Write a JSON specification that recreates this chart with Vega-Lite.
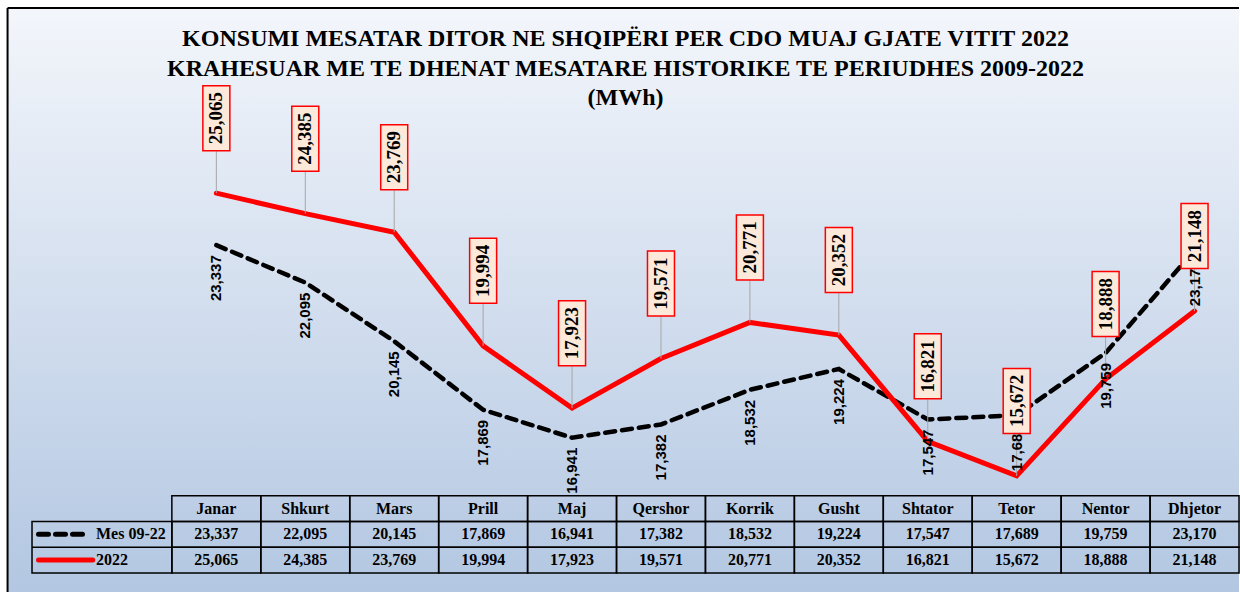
{
  "$schema": "https://vega.github.io/schema/vega-lite/v6.json",
  "width": 1240,
  "height": 593,
  "autosize": {"type": "fit", "contains": "padding"},
  "padding": 0,
  "background": "white",
  "config": {"view": {"stroke": null}, "axis": {"disable": true}},
  "title": {
    "text": ["KONSUMI MESATAR DITOR NE SHQIPËRI PER CDO MUAJ GJATE VITIT 2022", "KRAHESUAR ME TE DHENAT MESATARE HISTORIKE TE PERIUDHES 2009-2022", "(MWh)"],
    "anchor": "middle",
    "font": "Liberation Serif",
    "fontSize": 24,
    "fontWeight": "bold",
    "color": "#000000",
    "lineHeight": 29.5,
    "offset": -110,
    "dx": 6
  },
  "data": {"values": [
    {"month": "Janar", "idx": 0, "mes": 23337, "y22": 25065},
    {"month": "Shkurt", "idx": 1, "mes": 22095, "y22": 24385},
    {"month": "Mars", "idx": 2, "mes": 20145, "y22": 23769},
    {"month": "Prill", "idx": 3, "mes": 17869, "y22": 19994},
    {"month": "Maj", "idx": 4, "mes": 16941, "y22": 17923},
    {"month": "Qershor", "idx": 5, "mes": 17382, "y22": 19571},
    {"month": "Korrik", "idx": 6, "mes": 18532, "y22": 20771},
    {"month": "Gusht", "idx": 7, "mes": 19224, "y22": 20352},
    {"month": "Shtator", "idx": 8, "mes": 17547, "y22": 16821},
    {"month": "Tetor", "idx": 9, "mes": 17689, "y22": 15672},
    {"month": "Nentor", "idx": 10, "mes": 19759, "y22": 18888},
    {"month": "Dhjetor", "idx": 11, "mes": 23170, "y22": 21148}
  ]},
  "resolve": {"scale": {"y": "independent"}},
  "layer": [
    {
      "data": {"values": [{}]},
      "mark": {"type": "rect", "fill": {"gradient": "linear", "x1": 0, "y1": 0, "x2": 0, "y2": 1, "stops": [{"offset": 0, "color": "#f3f6fb"}, {"offset": 1, "color": "#b3c7e2"}]}},
      "encoding": {
        "x": {"datum": -2.348, "type": "quantitative", "scale": {"domain": [-2.433, 11.5], "nice": false, "zero": false}},
        "x2": {"datum": 11.5},
        "y": {"datum": 31217, "type": "quantitative", "scale": {"domain": [11816, 31482], "nice": false, "zero": false}},
        "y2": {"datum": 11816}
      }
    },
    {
      "data": {"values": [{}]},
      "mark": {"type": "rule", "color": "#000000", "strokeWidth": 2},
      "encoding": {
        "x": {"datum": -2.348, "type": "quantitative", "scale": {"domain": [-2.433, 11.5], "nice": false, "zero": false}},
        "x2": {"datum": 11.5},
        "y": {"datum": 31217, "type": "quantitative", "scale": {"domain": [11816, 31482], "nice": false, "zero": false}}
      }
    },
    {
      "data": {"values": [{}]},
      "mark": {"type": "rule", "color": "#000000", "strokeWidth": 2},
      "encoding": {
        "x": {"datum": -2.348, "type": "quantitative", "scale": {"domain": [-2.433, 11.5], "nice": false, "zero": false}},
        "y": {"datum": 31217, "type": "quantitative", "scale": {"domain": [11816, 31482], "nice": false, "zero": false}},
        "y2": {"datum": 11816}
      }
    },
    {
      "mark": {"type": "rect", "filled": false, "stroke": "#000000", "strokeWidth": 1.5, "width": 89, "height": 25.75},
      "encoding": {
        "x": {"field": "idx", "type": "quantitative", "scale": {"domain": [-2.433, 11.5], "nice": false, "zero": false}},
        "y": {"datum": 0, "type": "quantitative", "scale": {"domain": [-19.786, 3.243], "reverse": true, "nice": false, "zero": false}}
      }
    },
    {
      "mark": {"type": "rect", "filled": false, "stroke": "#000000", "strokeWidth": 1.5, "width": 89, "height": 25.75},
      "encoding": {
        "x": {"field": "idx", "type": "quantitative", "scale": {"domain": [-2.433, 11.5], "nice": false, "zero": false}},
        "y": {"datum": 1, "type": "quantitative", "scale": {"domain": [-19.786, 3.243], "reverse": true, "nice": false, "zero": false}}
      }
    },
    {
      "mark": {"type": "rect", "filled": false, "stroke": "#000000", "strokeWidth": 1.5, "width": 89, "height": 25.75},
      "encoding": {
        "x": {"field": "idx", "type": "quantitative", "scale": {"domain": [-2.433, 11.5], "nice": false, "zero": false}},
        "y": {"datum": 2, "type": "quantitative", "scale": {"domain": [-19.786, 3.243], "reverse": true, "nice": false, "zero": false}}
      }
    },
    {
      "data": {"values": [{}]},
      "mark": {"type": "rect", "filled": false, "stroke": "#000000", "strokeWidth": 1.5},
      "encoding": {
        "x": {"datum": -2.073, "type": "quantitative", "scale": {"domain": [-2.433, 11.5], "nice": false, "zero": false}},
        "x2": {"datum": -0.5},
        "y": {"datum": 0.5, "type": "quantitative", "scale": {"domain": [-19.786, 3.243], "reverse": true, "nice": false, "zero": false}},
        "y2": {"datum": 2.5}
      }
    },
    {
      "data": {"values": [{}]},
      "mark": {"type": "rule", "color": "#000000", "strokeWidth": 1.5},
      "encoding": {
        "x": {"datum": -2.073, "type": "quantitative", "scale": {"domain": [-2.433, 11.5], "nice": false, "zero": false}},
        "x2": {"datum": -0.5},
        "y": {"datum": 1.5, "type": "quantitative", "scale": {"domain": [-19.786, 3.243], "reverse": true, "nice": false, "zero": false}}
      }
    },
    {
      "mark": {"type": "text", "font": "Liberation Serif", "fontWeight": "bold", "fontSize": 16, "color": "#000000", "align": "center", "baseline": "middle"},
      "encoding": {
        "x": {"field": "idx", "type": "quantitative", "scale": {"domain": [-2.433, 11.5], "nice": false, "zero": false}},
        "y": {"datum": 0, "type": "quantitative", "scale": {"domain": [-19.786, 3.243], "reverse": true, "nice": false, "zero": false}},
        "text": {"field": "month"}
      }
    },
    {
      "mark": {"type": "text", "font": "Liberation Serif", "fontWeight": "bold", "fontSize": 16, "color": "#000000", "align": "center", "baseline": "middle"},
      "encoding": {
        "x": {"field": "idx", "type": "quantitative", "scale": {"domain": [-2.433, 11.5], "nice": false, "zero": false}},
        "y": {"datum": 1, "type": "quantitative", "scale": {"domain": [-19.786, 3.243], "reverse": true, "nice": false, "zero": false}},
        "text": {"field": "mes", "format": ","}
      }
    },
    {
      "mark": {"type": "text", "font": "Liberation Serif", "fontWeight": "bold", "fontSize": 16, "color": "#000000", "align": "center", "baseline": "middle"},
      "encoding": {
        "x": {"field": "idx", "type": "quantitative", "scale": {"domain": [-2.433, 11.5], "nice": false, "zero": false}},
        "y": {"datum": 2, "type": "quantitative", "scale": {"domain": [-19.786, 3.243], "reverse": true, "nice": false, "zero": false}},
        "text": {"field": "y22", "format": ","}
      }
    },
    {
      "data": {"values": [{"series": "Mes 09-22"}]},
      "mark": {"type": "text", "font": "Liberation Serif", "fontWeight": "bold", "fontSize": 16, "color": "#000000", "align": "left", "baseline": "middle"},
      "encoding": {
        "x": {"datum": -1.354, "type": "quantitative", "scale": {"domain": [-2.433, 11.5], "nice": false, "zero": false}},
        "y": {"datum": 1, "type": "quantitative", "scale": {"domain": [-19.786, 3.243], "reverse": true, "nice": false, "zero": false}},
        "text": {"field": "series"}
      }
    },
    {
      "data": {"values": [{"series": "2022"}]},
      "mark": {"type": "text", "font": "Liberation Serif", "fontWeight": "bold", "fontSize": 16, "color": "#000000", "align": "left", "baseline": "middle"},
      "encoding": {
        "x": {"datum": -1.354, "type": "quantitative", "scale": {"domain": [-2.433, 11.5], "nice": false, "zero": false}},
        "y": {"datum": 2, "type": "quantitative", "scale": {"domain": [-19.786, 3.243], "reverse": true, "nice": false, "zero": false}},
        "text": {"field": "series"}
      }
    },
    {
      "data": {"values": [{}]},
      "mark": {"type": "rule", "color": "#000000", "strokeWidth": 5, "strokeDash": [10, 7], "strokeCap": "round"},
      "encoding": {
        "x": {"datum": -2.0, "type": "quantitative", "scale": {"domain": [-2.433, 11.5], "nice": false, "zero": false}},
        "x2": {"datum": -1.43},
        "y": {"datum": 1, "type": "quantitative", "scale": {"domain": [-19.786, 3.243], "reverse": true, "nice": false, "zero": false}}
      }
    },
    {
      "data": {"values": [{}]},
      "mark": {"type": "rule", "color": "#ff0000", "strokeWidth": 5, "strokeCap": "round"},
      "encoding": {
        "x": {"datum": -2.0, "type": "quantitative", "scale": {"domain": [-2.433, 11.5], "nice": false, "zero": false}},
        "x2": {"datum": -1.39},
        "y": {"datum": 2, "type": "quantitative", "scale": {"domain": [-19.786, 3.243], "reverse": true, "nice": false, "zero": false}}
      }
    },
    {
      "mark": {"type": "line", "color": "#000000", "strokeWidth": 4.5, "strokeDash": [10, 7], "strokeCap": "round"},
      "encoding": {
        "x": {"field": "idx", "type": "quantitative", "scale": {"domain": [-2.433, 11.5], "nice": false, "zero": false}},
        "y": {"field": "mes", "type": "quantitative", "scale": {"domain": [11816, 31482], "nice": false, "zero": false}}
      }
    },
    {
      "mark": {"type": "line", "color": "#ff0000", "strokeWidth": 5, "strokeCap": "round"},
      "encoding": {
        "x": {"field": "idx", "type": "quantitative", "scale": {"domain": [-2.433, 11.5], "nice": false, "zero": false}},
        "y": {"field": "y22", "type": "quantitative", "scale": {"domain": [11816, 31482], "nice": false, "zero": false}}
      }
    },
    {
      "mark": {"type": "rule", "color": "#a6a6a6", "strokeWidth": 1, "y2Offset": -42},
      "encoding": {
        "x": {"field": "idx", "type": "quantitative", "scale": {"domain": [-2.433, 11.5], "nice": false, "zero": false}},
        "y": {"field": "y22", "type": "quantitative", "scale": {"domain": [11816, 31482], "nice": false, "zero": false}},
        "y2": {"field": "y22"}
      }
    },
    {
      "mark": {"type": "text", "font": "Liberation Sans", "fontWeight": "bold", "fontSize": 15, "color": "#000000", "align": "center", "baseline": "middle", "angle": 270, "yOffset": 33},
      "encoding": {
        "x": {"field": "idx", "type": "quantitative", "scale": {"domain": [-2.433, 11.5], "nice": false, "zero": false}},
        "y": {"field": "mes", "type": "quantitative", "scale": {"domain": [11816, 31482], "nice": false, "zero": false}},
        "text": {"field": "mes", "format": ","}
      }
    },
    {
      "mark": {"type": "rect", "fill": "#fde9d9", "stroke": "#ff0000", "strokeWidth": 1.5, "width": 27, "height": 65, "yOffset": -75},
      "encoding": {
        "x": {"field": "idx", "type": "quantitative", "scale": {"domain": [-2.433, 11.5], "nice": false, "zero": false}},
        "y": {"field": "y22", "type": "quantitative", "scale": {"domain": [11816, 31482], "nice": false, "zero": false}}
      }
    },
    {
      "mark": {"type": "text", "font": "Liberation Serif", "fontWeight": "bold", "fontSize": 19, "color": "#000000", "align": "center", "baseline": "middle", "angle": 270, "yOffset": -75},
      "encoding": {
        "x": {"field": "idx", "type": "quantitative", "scale": {"domain": [-2.433, 11.5], "nice": false, "zero": false}},
        "y": {"field": "y22", "type": "quantitative", "scale": {"domain": [11816, 31482], "nice": false, "zero": false}},
        "text": {"field": "y22", "format": ","}
      }
    }
  ]
}
